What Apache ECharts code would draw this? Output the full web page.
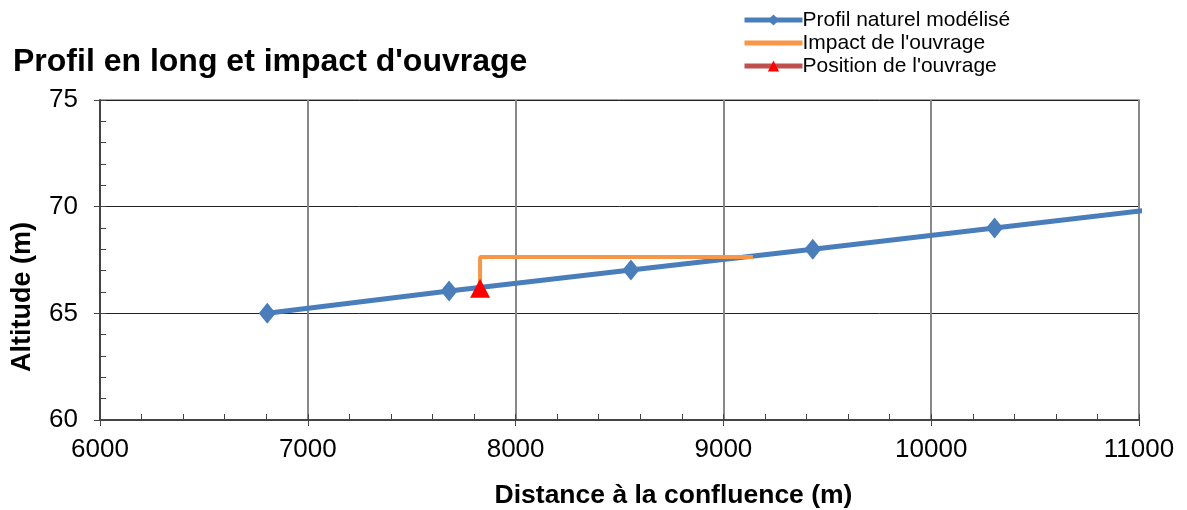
<!DOCTYPE html>
<html>
<head>
<meta charset="utf-8">
<script src="https://cdn.jsdelivr.net/npm/echarts@6/dist/echarts.min.js"></script>
<style>
  html, body { margin: 0; padding: 0; background: #fff; }
  #chart { width: 1187px; height: 510px; }
</style>
</head>
<body>
<div id="chart"></div>
<script>
// profil naturel (distance m, altitude m) - last point lies past the axis end
var profilX = [6805, 7680, 8555, 9430, 10305, 11180];
var profilY = [65, 66.05, 67.03, 68, 69, 70];
// impact de l'ouvrage
var impactX = [7829, 7829, 9142];
var impactY = [66.17, 67.64, 67.64];
// position de l'ouvrage
var ouvrageX = [7829];
var ouvrageY = [66.17];

function pairs(xs, ys) {
    return xs.map(function (x, i) { return [x, ys[i]]; });
}

var font = 'Liberation Sans, Arial, sans-serif';
var chart = echarts.init(document.getElementById('chart'));

var option = {
    animation: false,
    title: {
        text: "Profil en long et impact d'ouvrage",
        left: 8,
        top: 41,
        textStyle: { fontFamily: font, fontSize: 32, fontWeight: 'bold', color: '#000' }
    },
    legend: {
        orient: 'vertical',
        left: 737,
        top: 4,
        itemWidth: 58,
        itemHeight: 14,
        itemGap: 1,
        lineStyle: { width: 5 },
        textStyle: { fontFamily: font, fontSize: 21, lineHeight: 22, color: '#000', padding: [0, 0, 0, -5] },
        data: [
            { name: 'Profil naturel modélisé' },
            { name: "Impact de l'ouvrage", icon: 'path://M0,0h58v5h-58z' },
            { name: "Position de l'ouvrage" }
        ]
    },
    grid: {
        left: 100, right: 48, top: 100, bottom: 90,
        outerBoundsMode: 'none',
        containLabel: false,
        show: true, borderColor: '#888', borderWidth: 1.5
    },
    xAxis: [{
        type: 'value',
        min: 6000, max: 11000, interval: 1000,
        name: 'Distance à la confluence (m)',
        nameLocation: 'middle',
        nameGap: 62,
        nameTextStyle: { fontFamily: font, fontSize: 26.5, fontWeight: 'bold', color: '#000', padding: [0, 0, 0, 108] },
        axisLine: { lineStyle: { color: '#444', width: 2 } },
        axisTick: { length: 6, lineStyle: { color: '#444' } },
        axisLabel: { fontFamily: font, fontSize: 26, color: '#000', margin: 17, formatter: function (v) { return String(v); } },
        splitLine: { lineStyle: { color: '#888', width: 2 } }
    }, {
        type: 'value',
        position: 'bottom',
        min: 6000, max: 11000, interval: 200,
        axisLine: { show: false },
        axisTick: { inside: true, length: 6, lineStyle: { color: '#444' } },
        axisLabel: { show: false },
        splitLine: { show: false }
    }],
    yAxis: [{
        type: 'value',
        min: 60, max: 75, interval: 5,
        name: 'Altitude (m)',
        nameLocation: 'middle',
        nameGap: 64,
        nameTextStyle: { fontFamily: font, fontSize: 27, fontWeight: 'bold', color: '#000', padding: [0, 74, 0, 0] },
        axisLine: { show: true, lineStyle: { color: '#444', width: 2 } },
        axisTick: { show: true, length: 6, lineStyle: { color: '#444' } },
        axisLabel: { fontFamily: font, fontSize: 26, color: '#000', margin: 22 },
        splitLine: { lineStyle: { color: '#222', width: 1 } }
    }, {
        type: 'value',
        position: 'left',
        min: 60, max: 75, interval: 1,
        axisLine: { show: false },
        axisTick: { show: true, inside: true, length: 6, lineStyle: { color: '#444' } },
        axisLabel: { show: false },
        splitLine: { show: false }
    }],
    series: [{
        name: 'Profil naturel modélisé',
        type: 'line',
        data: pairs(profilX, profilY),
        symbol: 'diamond',
        symbolSize: [17, 21],
        lineStyle: { color: '#4a7ebb', width: 5 },
        itemStyle: { color: '#4a7ebb' },
        z: 2
    }, {
        name: "Impact de l'ouvrage",
        type: 'line',
        data: pairs(impactX, impactY),
        showSymbol: false,
        symbol: 'none',
        lineStyle: { color: '#f79646', width: 4 },
        itemStyle: { color: '#f79646' },
        z: 3
    }, {
        name: "Position de l'ouvrage",
        type: 'line',
        data: pairs(ouvrageX, ouvrageY),
        symbol: 'triangle',
        symbolSize: [20, 19],
        lineStyle: { color: '#c0504d', width: 5 },
        itemStyle: { color: '#ff0000' },
        z: 4
    }]
};

chart.setOption(option);
</script>
</body>
</html>
